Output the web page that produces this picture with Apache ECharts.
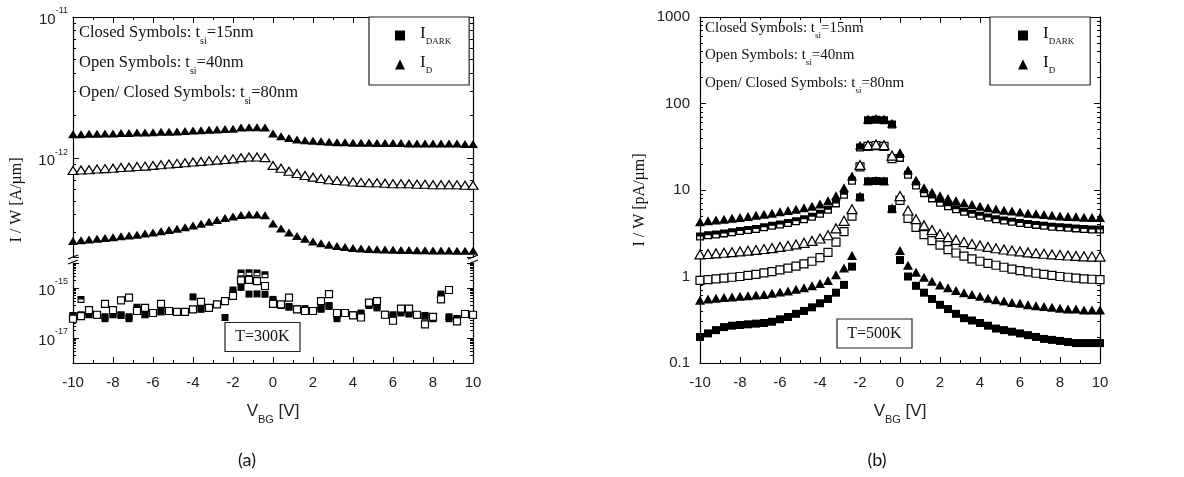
<!DOCTYPE html>
<html>
<head>
<meta charset="utf-8">
<title>I/W vs VBG</title>
<script src="https://cdn.jsdelivr.net/npm/echarts@6.0.0/dist/echarts.min.js"></script>
<style>
  html, body { margin: 0; padding: 0; background: #fff; }
  #chart { width: 1184px; height: 477px; }
</style>
</head>
<body>
<div id="chart"></div>
<script>
// back-gate voltage, V (0.4 V steps)
const vbg = [-10, -9.6, -9.2, -8.8, -8.4, -8, -7.6, -7.2, -6.8, -6.4,
  -6, -5.6, -5.2, -4.8, -4.4, -4, -3.6, -3.2, -2.8, -2.4,
  -2, -1.6, -1.2, -0.8, -0.4, 0, 0.4, 0.8, 1.2, 1.6,
  2, 2.4, 2.8, 3.2, 3.6, 4, 4.4, 4.8, 5.2, 5.6,
  6, 6.4, 6.8, 7.2, 7.6, 8, 8.4, 8.8, 9.2, 9.6, 10];

// (a) T=300K, A/um
const a_id_15 = [1.48e-12, 1.48e-12, 1.49e-12, 1.49e-12, 1.50e-12, 1.50e-12, 1.51e-12, 1.51e-12, 1.52e-12, 1.52e-12,
  1.53e-12, 1.54e-12, 1.54e-12, 1.55e-12, 1.56e-12, 1.57e-12, 1.58e-12, 1.59e-12, 1.60e-12, 1.61e-12,
  1.62e-12, 1.65e-12, 1.66e-12, 1.66e-12, 1.65e-12, 1.50e-12, 1.43e-12, 1.39e-12, 1.36e-12, 1.34e-12,
  1.33e-12, 1.32e-12, 1.31e-12, 1.30e-12, 1.30e-12, 1.29e-12, 1.29e-12, 1.29e-12, 1.28e-12, 1.28e-12,
  1.28e-12, 1.28e-12, 1.27e-12, 1.27e-12, 1.27e-12, 1.27e-12, 1.27e-12, 1.27e-12, 1.27e-12, 1.26e-12, 1.26e-12];
const a_id_40 = [8.2e-13, 8.25e-13, 8.3e-13, 8.4e-13, 8.45e-13, 8.5e-13, 8.6e-13, 8.65e-13, 8.75e-13, 8.8e-13,
  8.9e-13, 9.0e-13, 9.1e-13, 9.2e-13, 9.3e-13, 9.4e-13, 9.5e-13, 9.6e-13, 9.7e-13, 9.8e-13,
  9.9e-13, 1.01e-12, 1.02e-12, 1.02e-12, 1.01e-12, 8.9e-13, 8.5e-13, 8.1e-13, 7.8e-13, 7.55e-13,
  7.35e-13, 7.2e-13, 7.05e-13, 6.95e-13, 6.9e-13, 6.8e-13, 6.75e-13, 6.7e-13, 6.7e-13, 6.65e-13,
  6.6e-13, 6.6e-13, 6.6e-13, 6.55e-13, 6.55e-13, 6.5e-13, 6.5e-13, 6.5e-13, 6.5e-13, 6.45e-13, 6.45e-13];
const a_id_80 = [2.60e-13, 2.63e-13, 2.66e-13, 2.69e-13, 2.73e-13, 2.76e-13, 2.80e-13, 2.84e-13, 2.88e-13, 2.93e-13,
  2.98e-13, 3.04e-13, 3.10e-13, 3.17e-13, 3.25e-13, 3.34e-13, 3.44e-13, 3.55e-13, 3.66e-13, 3.77e-13,
  3.87e-13, 3.97e-13, 4.0e-13, 4.0e-13, 3.95e-13, 3.45e-13, 3.18e-13, 2.98e-13, 2.82e-13, 2.69e-13,
  2.58e-13, 2.5e-13, 2.44e-13, 2.39e-13, 2.35e-13, 2.32e-13, 2.3e-13, 2.28e-13, 2.27e-13, 2.26e-13,
  2.25e-13, 2.24e-13, 2.24e-13, 2.23e-13, 2.23e-13, 2.22e-13, 2.22e-13, 2.22e-13, 2.21e-13, 2.21e-13, 2.21e-13];
const a_dark_15 = [7.5e-17, 8.5e-17, 8.5e-17, 8.5e-17, 5.9e-17, 8.5e-17, 8.5e-17, 5.9e-17, 1.7e-16, 8.5e-17,
  1.0e-16, 1.2e-16, 1.2e-16, 1.1e-16, 1.1e-16, 4.4e-16, 1.4e-16, 1.6e-16, 2.2e-16, 6.6e-17,
  8.3e-16, 1.06e-15, 5.7e-16, 5.8e-16, 5.6e-16, 3.5e-16, 2.2e-16, 1.7e-16, 1.4e-16, 1.5e-16,
  1.2e-16, 1.5e-16, 2.0e-16, 5.9e-17, 1.0e-16, 8.0e-17, 1.0e-16, 2.0e-16, 1.6e-16, 8.5e-17,
  8.5e-17, 1.0e-16, 9.1e-17, 8.5e-17, 8.0e-17, 5.9e-17, 5.7e-16, 5.9e-17, 5.9e-17, 9.1e-17, 8.5e-17];
const a_dark_40 = [5.9e-17, 7.5e-17, 1.3e-16, 8.5e-17, 2.3e-16, 1.3e-16, 3.2e-16, 4.1e-16, 1.2e-16, 1.6e-16,
  1.0e-16, 2.3e-16, 1.2e-16, 1.1e-16, 1.1e-16, 1.4e-16, 2.8e-16, 1.6e-16, 2.2e-16, 3.0e-16,
  4.8e-16, 2.0e-15, 2.1e-15, 1.9e-15, 1.2e-15, 2.3e-16, 2.2e-16, 4.1e-16, 1.4e-16, 1.2e-16,
  1.2e-16, 3.0e-16, 5.7e-16, 1.0e-16, 1.0e-16, 8.0e-17, 6.6e-17, 2.6e-16, 3.0e-16, 8.5e-17,
  4.9e-17, 1.5e-16, 1.5e-16, 8.5e-17, 3.5e-17, 7.0e-17, 3.5e-16, 8.3e-16, 4.6e-17, 9.1e-17, 8.5e-17];
const a_dark_80 = [8.0e-17, 3.5e-16, 9.0e-17, 8.0e-17, 7.0e-17, 9.0e-17, 8.0e-17, 7.0e-17, 1.4e-16, 9.0e-17,
  1.0e-16, 1.1e-16, 1.2e-16, 1.1e-16, 1.15e-16, 1.4e-16, 1.5e-16, 1.6e-16, 2.2e-16, 3.0e-16,
  6.5e-16, 4.0e-15, 4.1e-15, 4.0e-15, 3.4e-15, 3.0e-16, 2.0e-16, 1.8e-16, 1.5e-16, 1.3e-16,
  1.2e-16, 1.4e-16, 1.8e-16, 8.0e-17, 1.0e-16, 8.5e-17, 9.0e-17, 2.2e-16, 1.8e-16, 9.0e-17,
  7.0e-17, 1.1e-16, 1.0e-16, 8.0e-17, 7.0e-17, 6.5e-17, 4.5e-16, 7.0e-17, 6.0e-17, 9.0e-17, 8.0e-17];

// (b) T=500K, pA/um
const b_id_80 = [4.3, 4.4, 4.5, 4.6, 4.7, 4.8, 4.95, 5.1, 5.25, 5.4,
  5.6, 5.8, 6.0, 6.25, 6.5, 6.9, 7.5, 8.6, 10.6, 14.5,
  33, 66, 67, 66, 59, 27, 17, 13, 10.6, 9.4,
  8.6, 8.0, 7.5, 7.1, 6.8, 6.5, 6.25, 6.05, 5.85, 5.7,
  5.55, 5.4, 5.3, 5.2, 5.1, 5.0, 4.95, 4.9, 4.85, 4.8, 4.8];
const b_dark_80 = [2.9, 3.0, 3.05, 3.15, 3.25, 3.35, 3.45, 3.55, 3.7, 3.85,
  4.0, 4.15, 4.35, 4.6, 4.9, 5.3, 5.9, 7.0, 8.8, 12.8,
  31, 64, 65, 64, 57, 23.5, 15, 11.3, 9.2, 8.0,
  7.1, 6.5, 6.0, 5.6, 5.3, 5.05, 4.8, 4.6, 4.45, 4.3,
  4.15, 4.05, 3.95, 3.85, 3.75, 3.7, 3.65, 3.6, 3.55, 3.5, 3.5];
const b_id_40 = [1.8, 1.82, 1.85, 1.88, 1.91, 1.95, 1.99, 2.03, 2.08, 2.13,
  2.2, 2.27, 2.35, 2.45, 2.58, 2.75, 3.0, 3.6, 4.4, 6.0,
  19.5, 33, 33.5, 33, 25, 8.5, 5.8, 4.6, 3.9, 3.45,
  3.1, 2.85, 2.65, 2.5, 2.38, 2.28, 2.2, 2.12, 2.05, 2.0,
  1.95, 1.9, 1.86, 1.83, 1.8, 1.77, 1.75, 1.73, 1.71, 1.7, 1.7];
const b_dark_40 = [0.9, 0.92, 0.94, 0.96, 0.98, 1.0, 1.03, 1.06, 1.1, 1.14,
  1.19, 1.25, 1.32, 1.4, 1.5, 1.65, 1.9, 2.5, 3.3, 5.0,
  18.5, 32, 32.5, 32, 23, 7.6, 4.7, 3.7, 3.05, 2.6,
  2.3, 2.05, 1.87, 1.72, 1.6, 1.5, 1.42, 1.35, 1.28, 1.22,
  1.17, 1.13, 1.09, 1.06, 1.03, 1.0, 0.98, 0.96, 0.94, 0.93, 0.92];
const b_id_15 = [0.53, 0.55, 0.56, 0.57, 0.58, 0.59, 0.6, 0.61, 0.62, 0.64,
  0.66, 0.68, 0.71, 0.74, 0.78, 0.83, 0.9, 1.05, 1.25, 1.75,
  8.5, 12.8, 12.9, 12.8, 6.2, 2.0, 1.35, 1.12, 0.98, 0.88,
  0.8, 0.74, 0.69, 0.65, 0.62, 0.59, 0.56, 0.54, 0.52, 0.5,
  0.49, 0.47, 0.46, 0.45, 0.44, 0.43, 0.42, 0.42, 0.41, 0.41, 0.41];
const b_dark_15 = [0.2, 0.22, 0.24, 0.26, 0.27, 0.275, 0.28, 0.285, 0.29, 0.3,
  0.32, 0.34, 0.37, 0.4, 0.44, 0.49, 0.55, 0.65, 0.8, 1.3,
  8.2, 12.6, 12.7, 12.6, 6.0, 1.55, 1.0, 0.78, 0.65, 0.55,
  0.47, 0.42, 0.37, 0.33, 0.31, 0.29, 0.27, 0.25, 0.24, 0.23,
  0.22, 0.21, 0.2, 0.19, 0.185, 0.18, 0.175, 0.17, 0.17, 0.17, 0.17];

// tick labels
const aUpperExp = [-11, -12];
const aLowerExp = [-15, -17];
const bTickLabels = ['0.1', '1', '10', '100', '1000'];

// axis ranges
const aUpperRange = [2e-13, 1e-11];
const aLowerRange = [1e-18, 1e-14];
const bRange = [0.1, 1000];

// (a) is plotted in units of 1e-20 A/um so the log scale stays well away from its rounding limit
const A_SHIFT = 20;
const A_UNIT = Math.pow(10, A_SHIFT);

const sans = 'Liberation Sans';
const serif = 'Liberation Serif';

const chart = echarts.init(document.getElementById('chart'));

function toA(ys) { return vbg.map((v, i) => [v, ys[i] * A_UNIT]); }
function toB(ys) { return vbg.map((v, i) => [v, ys[i]]); }

const closed = { color: '#000', opacity: 1 };
const open = { color: '#fff', borderColor: '#000', borderWidth: 1.2, opacity: 1 };
// open/closed square: top half filled
const halfSquare = 'path://M0,0H10V10H0Z M1.6,5V8.4H8.4V5Z';

function sc(name, data, xi, yi, symbol, size, style) {
  return {
    name: name, type: 'scatter', xAxisIndex: xi, yAxisIndex: yi,
    data: data, symbol: symbol, symbolSize: size, itemStyle: style, silent: true
  };
}

const axisLine = { show: true, onZero: false, lineStyle: { color: '#000', width: 1.2 } };
const axisTick = { show: true, inside: true, length: 6, lineStyle: { color: '#000', width: 1 } };

const nameRich = {
  v: { fontFamily: sans, fontSize: 17, color: '#222', verticalAlign: 'top' },
  s: { fontFamily: sans, fontSize: 11, color: '#222', verticalAlign: 'top', padding: [11, 0, 0, 0] }
};

function xAx(gi, pos, showLabel, withName) {
  const ax = {
    type: 'value', gridIndex: gi, position: pos, min: -10, max: 10, interval: 2,
    axisLine: axisLine, axisTick: axisTick,
    minorTick: { show: true, splitNumber: 2, length: 3, lineStyle: { color: '#000', width: 1 } },
    splitLine: { show: false },
    axisLabel: { show: showLabel, fontFamily: sans, fontSize: 15, color: '#222', margin: 12 }
  };
  if (withName) {
    ax.name = '{v|V}{s|BG}{v| [V]}';
    ax.nameLocation = 'middle';
    ax.nameGap = 40;
    ax.nameTextStyle = { rich: nameRich };
  }
  return ax;
}

const supRich = {
  b: { fontFamily: sans, fontSize: 15, color: '#222', verticalAlign: 'top', padding: [6, 0, 0, 0] },
  p: { fontFamily: sans, fontSize: 9, color: '#222', verticalAlign: 'top' }
};

function expFormatter(list) {
  return function (v) {
    const lg = Math.log10(v);
    const r = Math.round(lg);
    if (Math.abs(lg - r) > 1e-6) return '';
    const e = r - A_SHIFT;
    return list.indexOf(e) >= 0 ? '{b|10}{p|' + e + '}' : '';
  };
}

function yAx(gi, pos, range, unit, label) {
  return {
    type: 'log', logBase: 10, gridIndex: gi, position: pos,
    min: range[0] * unit, max: range[1] * unit,
    axisLine: axisLine, axisTick: axisTick,
    splitLine: { show: false },
    axisLabel: label || { show: false }
  };
}

// short log-spaced minor ticks (2..9 in every decade), drawn by a tick-only value axis
// that runs over log10 of the same range
function yMinor(gi, pos, range) {
  const lo = Math.log10(range[0]);
  const hi = Math.log10(range[1]);
  const vals = [];
  for (let d = Math.floor(lo); d < Math.ceil(hi); d++) {
    for (let m = 2; m <= 9; m++) {
      const t = d + Math.log10(m);
      if (t > lo + 1e-9 && t < hi - 1e-9) vals.push(t);
    }
  }
  return {
    type: 'value', gridIndex: gi, position: pos, min: lo, max: hi,
    axisLine: { show: false, onZero: false },
    axisTick: { show: true, inside: true, length: 3, customValues: vals, lineStyle: { color: '#000', width: 1 } },
    axisLabel: { show: false },
    splitLine: { show: false }
  };
}

const option = {
  animation: false,
  backgroundColor: '#fff',
  grid: [
    { left: 73, width: 400, top: 17, height: 240 },
    { left: 73, width: 400, top: 263, height: 100 },
    { left: 700, width: 400, top: 17, height: 346 }
  ],
  xAxis: [
    xAx(0, 'top', false, false),
    xAx(1, 'bottom', true, true),
    xAx(2, 'bottom', true, true),
    xAx(2, 'top', false, false)
  ],
  yAxis: [
    yAx(0, 'left', aUpperRange, A_UNIT,
      { show: true, margin: 5, formatter: expFormatter(aUpperExp), rich: supRich }),
    yAx(0, 'right', aUpperRange, A_UNIT),
    yAx(1, 'left', aLowerRange, A_UNIT,
      { show: true, margin: 5, formatter: expFormatter(aLowerExp), rich: supRich }),
    yAx(1, 'right', aLowerRange, A_UNIT),
    yAx(2, 'left', bRange, 1, {
      show: true, margin: 10, fontFamily: sans, fontSize: 15, color: '#222',
      formatter: function (v) {
        const i = Math.round(Math.log10(v)) + 1;
        return bTickLabels[i] || '';
      }
    }),
    yAx(2, 'right', bRange, 1),
    yMinor(0, 'left', aUpperRange),
    yMinor(0, 'right', aUpperRange),
    yMinor(1, 'left', aLowerRange),
    yMinor(1, 'right', aLowerRange),
    yMinor(2, 'left', bRange),
    yMinor(2, 'right', bRange)
  ],
  legend: [0, 1].map(function (k) {
    return {
      left: k === 0 ? 369 : 990, top: 17, orient: 'vertical',
      data: [{ name: 'IDARK', icon: 'rect' }, { name: 'ID', icon: 'triangle' }],
      itemWidth: 10, itemHeight: 10, itemGap: 8,
      padding: [8, k === 0 ? 18 : 16, 10, k === 0 ? 26 : 28],
      borderColor: '#222', borderWidth: 1.2, backgroundColor: '#fff',
      selectedMode: false,
      formatter: function (n) { return n === 'IDARK' ? '{i|I}{s|DARK}' : '{i|I}{s|D}'; },
      textStyle: {
        rich: {
          i: { fontFamily: serif, fontSize: 17, color: '#111', verticalAlign: 'top', padding: [0, 0, 0, 10] },
          s: { fontFamily: serif, fontSize: 9, color: '#111', verticalAlign: 'top', padding: [12, 0, 0, 0] }
        }
      }
    };
  }),
  series: [
    sc('IDARK', toA(a_dark_15), 1, 2, 'rect', 7, closed),
    sc('ID', toA(a_id_15), 0, 0, 'triangle', [10, 8], closed),
    sc('IDARK', toA(a_dark_80), 1, 2, halfSquare, 7, closed),
    sc('IDARK', toA(a_dark_40), 1, 2, 'rect', 7, open),
    sc('ID', toA(a_id_40), 0, 0, 'triangle', [10, 8], open),
    sc('ID', toA(a_id_80), 0, 0, 'triangle', [10, 8], closed),
    sc('IDARK', toB(b_dark_15), 2, 4, 'rect', 8, closed),
    sc('IDARK', toB(b_dark_40), 2, 4, 'rect', 8, open),
    sc('IDARK', toB(b_dark_80), 2, 4, halfSquare, 8, closed),
    sc('ID', toB(b_id_15), 2, 4, 'triangle', [10, 9], closed),
    sc('ID', toB(b_id_40), 2, 4, 'triangle', [10, 9], open),
    sc('ID', toB(b_id_80), 2, 4, 'triangle', [10, 9], closed)
  ]
};

// notes, boxes, axis titles and captions
function note(x, y, size, pre, sub, post) {
  const rich = {
    n: { fontFamily: serif, fontSize: size, fill: '#111', verticalAlign: 'top' },
    s: { fontFamily: serif, fontSize: Math.round(size * 0.6), fill: '#111', verticalAlign: 'top', padding: [Math.round(size * 0.7), 0, 0, 0] }
  };
  return {
    type: 'text', x: x, y: y, silent: true,
    style: { text: '{n|' + pre + '}{s|' + sub + '}{n|' + post + '}', rich: rich, align: 'left', verticalAlign: 'top' }
  };
}
function tempBox(cx, cy, label) {
  return {
    type: 'group', silent: true, children: [
      { type: 'rect', shape: { x: cx - 37.5, y: cy - 14.5, width: 75, height: 29 },
        style: { fill: '#fff', stroke: '#222', lineWidth: 1.2 } },
      { type: 'text', x: cx, y: cy,
        style: { text: label, font: '16px "' + serif + '"', fill: '#111', align: 'center', verticalAlign: 'middle' } }
    ]
  };
}
function yName(x, y, label) {
  return {
    type: 'text', x: x, y: y, rotation: Math.PI / 2, silent: true,
    style: { text: label, font: '16px "' + serif + '"', fill: '#111', align: 'center', verticalAlign: 'middle' }
  };
}
function caption(x, y, label) {
  return {
    type: 'text', x: x, y: y, silent: true,
    style: { text: label, font: '18px Lato', fill: '#111', align: 'center', verticalAlign: 'middle' }
  };
}
function breakMark(x, y) {
  return {
    type: 'group', silent: true, children: [
      { type: 'line', shape: { x1: x - 5, y1: y + 1, x2: x + 5, y2: y - 3 }, style: { stroke: '#000', lineWidth: 1.2 } },
      { type: 'line', shape: { x1: x - 5, y1: y + 6, x2: x + 5, y2: y + 2 }, style: { stroke: '#000', lineWidth: 1.2 } }
    ]
  };
}

option.graphic = [
  note(79, 24.5, 16.5, 'Closed Symbols: t', 'si', '=15nm'),
  note(79, 54.5, 16.5, 'Open Symbols: t', 'si', '=40nm'),
  note(79, 84.5, 16.5, 'Open/ Closed Symbols: t', 'si', '=80nm'),
  note(705, 20.5, 15, 'Closed Symbols: t', 'si', '=15nm'),
  note(705, 47.5, 15, 'Open Symbols: t', 'si', '=40nm'),
  note(705, 75.5, 15, 'Open/ Closed Symbols: t', 'si', '=80nm'),
  tempBox(262.5, 337, 'T=300K'),
  tempBox(874.5, 333.5, 'T=500K'),
  yName(17, 200, 'I / W [A/\u00b5m]'),
  yName(640, 200, 'I / W [pA/\u00b5m]'),
  caption(247, 460, '(a)'),
  caption(877, 460, '(b)'),
  breakMark(73, 258),
  breakMark(473, 258)
];

chart.setOption(option);
window.addEventListener('resize', function () {
  chart.resize();
});
</script>
</body>
</html>
